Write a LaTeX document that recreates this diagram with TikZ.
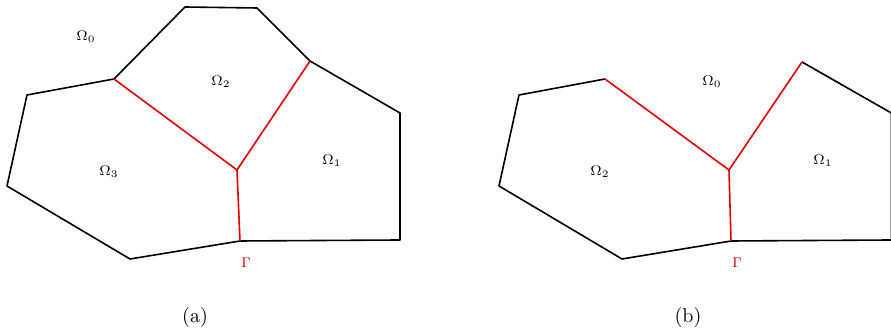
\documentclass[tikz,border=0pt]{standalone}
\begin{document}
\begin{tikzpicture}[x=0.5pt,y=-0.5pt,
  edge/.style={line width=0.8pt, line join=round},
  iface/.style={line width=0.8pt, draw=red!90!black, line join=round},
  lbl/.style={font=\scriptsize, inner sep=0pt},
  glbl/.style={font=\scriptsize, inner sep=0pt, text=red!85!black},
  captxt/.style={font=\normalsize, inner sep=0pt}]
\useasboundingbox (0,0) rectangle (891,335);
\clip (0,0) rectangle (891,335);
% ---- (a) ----
\coordinate (a1) at (185,7);
\coordinate (a2) at (257,8);
\coordinate (c) at (310,61);
\coordinate (d) at (400,113);
\coordinate (e) at (400,240);
\coordinate (f) at (240,241);
\coordinate (g) at (130,259);
\coordinate (h) at (7,186);
\coordinate (i) at (27,95);
\coordinate (j) at (114,79);
\coordinate (k) at (237,170);
\draw[edge] (j) -- (a1) -- (a2) -- (c) -- (d) -- (e) -- (f) -- (g) -- (h) -- (i) -- (j);
\draw[iface] (j) -- (k);
\draw[iface] (k) -- (c);
\draw[iface] (k) -- (f);
\node[lbl] (o0) at (86,37) {$\Omega_0$};
\node[lbl] (o2) at (221,82) {$\Omega_2$};
\node[lbl] (o3) at (109,172) {$\Omega_3$};
\node[lbl] (o1) at (332,161) {$\Omega_1$};
\node[glbl] (gam) at (246,263) {$\Gamma$};
\node[captxt] (capa) at (195,318) {(a)};
% ---- (b) ----
\coordinate (cb) at (802,62);
\coordinate (db) at (891.3,113);
\coordinate (eb) at (891.3,240);
\coordinate (fb) at (731,241);
\coordinate (gb) at (622,259);
\coordinate (hb) at (499,186);
\coordinate (ib) at (519,95);
\coordinate (jb) at (605,79);
\coordinate (kb) at (729,170);
\draw[edge] (jb) -- (ib) -- (hb) -- (gb) -- (fb) -- (eb) -- (db) -- (cb);
\draw[iface] (jb) -- (kb);
\draw[iface] (kb) -- (cb);
\draw[iface] (kb) -- (fb);
\node[lbl] (p0) at (712,82) {$\Omega_0$};
\node[lbl] (p1) at (823,161) {$\Omega_1$};
\node[lbl] (p2) at (600,172) {$\Omega_2$};
\node[glbl] (gamb) at (737,263) {$\Gamma$};
\node[captxt] (capb) at (688,318) {(b)};
\end{tikzpicture}
\end{document}
